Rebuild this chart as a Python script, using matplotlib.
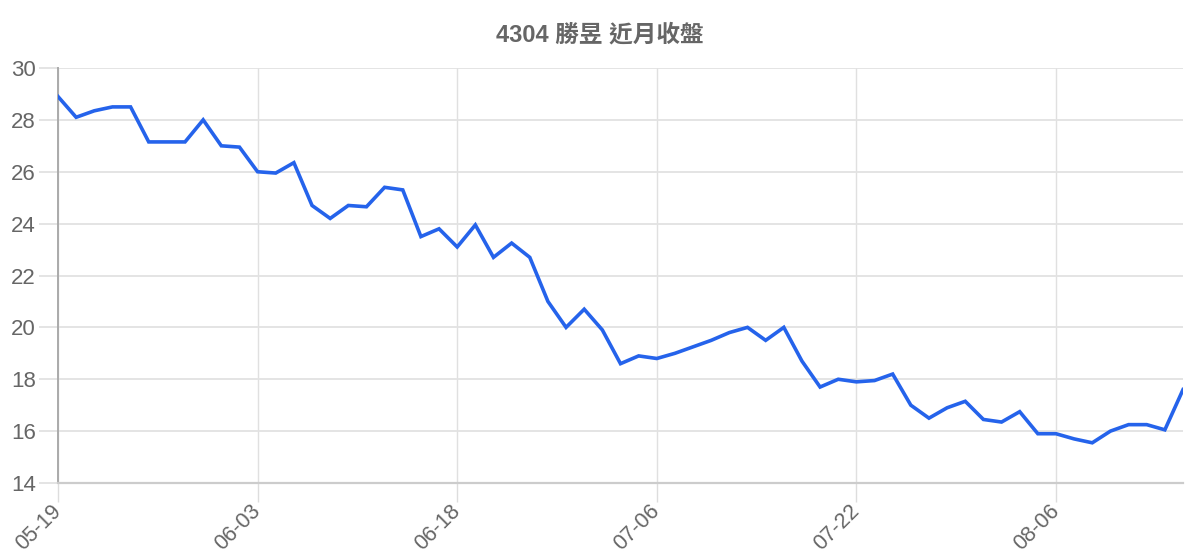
import matplotlib
matplotlib.use("Agg")
import matplotlib.pyplot as plt

title = "4304 勝昱 近月收盤"

dates = [
    "05-19", "05-20", "05-21", "05-22", "05-25", "05-26", "05-27", "05-28", "05-29",
    "06-01", "06-02", "06-03", "06-04", "06-05", "06-08", "06-09", "06-10", "06-11",
    "06-12", "06-15", "06-16", "06-17", "06-18", "06-22", "06-23", "06-24", "06-25",
    "06-26", "06-29", "06-30", "07-01", "07-02", "07-03", "07-06", "07-07", "07-08",
    "07-09", "07-10", "07-13", "07-14", "07-15", "07-16", "07-17", "07-20", "07-22",
    "07-23", "07-24", "07-27", "07-28", "07-29", "07-30", "07-31", "08-03", "08-04",
    "08-05", "08-06", "08-07", "08-10", "08-11", "08-12", "08-13", "08-14", "08-17",
]

close = [
    28.9, 28.1, 28.35, 28.5, 28.5, 27.15, 27.15, 27.15, 28.0, 27.0,
    26.95, 26.0, 25.95, 26.35, 24.7, 24.2, 24.7, 24.65, 25.4, 25.3,
    23.5, 23.8, 23.1, 23.95, 22.7, 23.25, 22.7, 21.0, 20.0, 20.7,
    19.9, 18.6, 18.9, 18.8, 19.0, 19.25, 19.5, 19.8, 20.0, 19.5,
    20.0, 18.7, 17.7, 18.0, 17.9, 17.95, 18.2, 17.0, 16.5, 16.9,
    17.15, 16.45, 16.35, 16.75, 15.9, 15.9, 15.7, 15.55, 16.0, 16.25,
    16.25, 16.05, 17.6,
]

y_min, y_max, y_step = 14, 30, 2
tick_every = 11

FONTS = ["Liberation Sans", "Noto Sans CJK TC", "DejaVu Sans"]
plt.rcParams["font.family"] = FONTS
TEXT = "#666666"

fig = plt.figure(figsize=(12, 5.6), dpi=100)
ax = fig.add_axes([58 / 1200, 1 - 483 / 560, (1183 - 58) / 1200, (483 - 68) / 560])

x = list(range(len(close)))
ax.plot(x, close, color="#2563eb", linewidth=2.6, solid_joinstyle="miter", zorder=3)

ax.set_xlim(0, len(close) - 1)
ax.set_ylim(y_min, y_max)
ax.set_yticks(list(range(y_min, y_max + 1, y_step)))
xt = list(range(0, len(close), tick_every))
ax.set_xticks(xt)
ax.set_xticklabels([dates[i] for i in xt], rotation=45, ha="right", va="center",
                   rotation_mode="anchor")

ax.grid(True, axis="y", color="#e2e2e2", linewidth=1.3, zorder=0)
ax.grid(True, axis="x", color="#e0e0e0", linewidth=1.0, zorder=0)

for s in ["top", "right"]:
    ax.spines[s].set_visible(False)
ax.spines["left"].set_color("#aaaaaa")
ax.spines["left"].set_linewidth(1.4)
ax.spines["bottom"].set_color("#cccccc")
ax.spines["bottom"].set_linewidth(1.6)

ax.tick_params(axis="y", length=14, width=1.3, color="#e2e2e2", pad=2,
               labelsize=16, labelcolor=TEXT)
ax.tick_params(axis="x", length=14, width=1.0, color="#dddddd", pad=4,
               labelsize=15.5, labelcolor=TEXT)

fig.text(0.5, 1 - 35 / 560, title, ha="center", va="center", fontsize=17,
         fontweight="bold", color=TEXT, family=FONTS)

fig.savefig("out.png", dpi=100, facecolor="white")
